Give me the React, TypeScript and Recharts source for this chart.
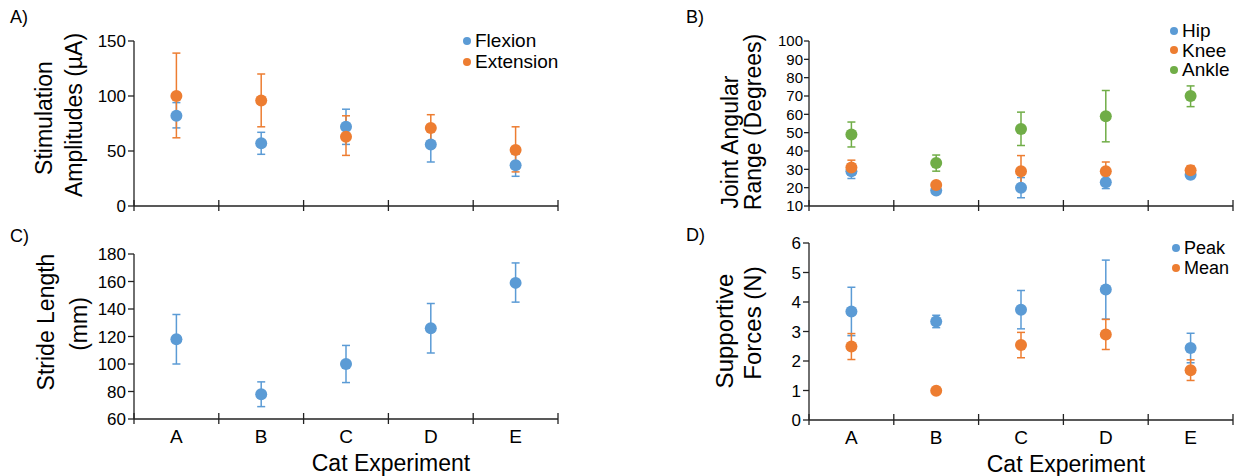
import React from "react"
import {
    ComposedChart,
    Scatter,
    ErrorBar,
    XAxis,
    YAxis,
    Legend,
    Label
} from "recharts"

const categories = ["A", "B", "C", "D", "E"]

// A) stimulation amplitudes (µA)
const flexion = [82, 57, 72, 56, 37]
const flexionLow = [11, 10, 16, 16, 10]
const flexionHigh = [12, 10, 16, 16, 10]
const extension = [100, 96, 63, 71, 51]
const extensionLow = [38, 24, 17, 12, 20]
const extensionHigh = [39, 24, 19, 12, 21]

// B) joint angular range (degrees)
const hip = [29, 18.5, 20, 23, 27]
const hipErr = [4, 1.3, 5.5, 3.5, 2]
const knee = [31, 21.5, 29, 29, 29.5]
const kneeErr = [4, 1, 8.5, 5, 2.5]
const ankle = [49, 33.5, 52, 59, 70]
const ankleLow = [6.8, 4.5, 9, 14, 5.8]
const ankleHigh = [6.8, 4.3, 9.2, 14, 5.5]

// C) stride length (mm)
const stride = [118, 78, 100, 126, 159]
const strideLow = [18, 9, 13.5, 18, 14]
const strideHigh = [18, 9, 13.5, 18, 14.5]

// D) supportive forces (N)
const peak = [3.68, 3.34, 3.74, 4.42, 2.44]
const peakErr = [0.82, 0.21, 0.65, 1.0, 0.5]
const mean = [2.49, 0.99, 2.54, 2.9, 1.69]
const meanErr = [0.44, 0.05, 0.43, 0.51, 0.35]

const ticksA = [0, 50, 100, 150]
const ticksB = [10, 20, 30, 40, 50, 60, 70, 80, 90, 100]
const ticksC = [60, 80, 100, 120, 140, 160, 180]
const ticksD = [0, 1, 2, 3, 4, 5, 6]
const xTicks = [0, 0.5, 1, 1.5, 2, 2.5, 3, 3.5, 4, 4.5, 5]

const legendOrder = ["Flexion", "Extension", "Hip", "Knee", "Ankle", "Peak", "Mean"]

const BLUE = "#5B9BD5"
const ORANGE = "#ED7D31"
const GREEN = "#70AD47"
const AXIS = "#222"
const FONT = 'Arial, "Liberation Sans", sans-serif'

const dataA = categories.map((c, i) => ({
    x: i + 0.5, cat: c,
    flex: flexion[i], flexErr: [flexionLow[i], flexionHigh[i]],
    ext: extension[i], extErr: [extensionLow[i], extensionHigh[i]],
}))
const dataB = categories.map((c, i) => ({
    x: i + 0.5, cat: c,
    hip: hip[i], hipErr: hipErr[i],
    knee: knee[i], kneeErr: kneeErr[i],
    ankle: ankle[i], ankleErr: [ankleLow[i], ankleHigh[i]],
}))
const dataC = categories.map((c, i) => ({
    x: i + 0.5, cat: c,
    stride: stride[i], strideErr: [strideLow[i], strideHigh[i]],
}))
const dataD = categories.map((c, i) => ({
    x: i + 0.5, cat: c,
    peak: peak[i], peakErr: peakErr[i],
    mean: mean[i], meanErr: meanErr[i],
}))

const dot = (color: string) => (p: any) => <circle cx={p.cx} cy={p.cy} r={6} fill={color} />

function CatTick(props: any) {
    const { x, y, payload, showLabels } = props
    const v = payload.value
    if (Number.isInteger(v)) {
        return <line x1={x} x2={x} y1={y - 6} y2={y + 5} stroke={AXIS} strokeWidth={1.3} />
    }
    if (!showLabels) return <g />
    return (
        <text x={x} y={y + 24} textAnchor="middle" fontSize={19} fill="#000" fontFamily={FONT}>
            {categories[Math.floor(v)]}
        </text>
    )
}

const legendContent = (fontSize: number, lineHeight: number) => (props: any) => {
    const items = [...(props.payload || [])].sort(
        (a: any, b: any) => legendOrder.indexOf(a.value) - legendOrder.indexOf(b.value))
    return (
        <div style={{ fontSize, lineHeight: `${lineHeight}px`, color: "#000", fontFamily: FONT }}>
            {items.map((e: any) => (
                <div key={e.value} style={{ display: "flex", alignItems: "center", whiteSpace: "nowrap", height: lineHeight }}>
                    <span style={{ display: "inline-block", width: 8, height: 8, borderRadius: 4, background: e.color, marginRight: 4 }} />
                    {e.value}
                </div>
            ))}
        </div>
    )
}

const yTitle = (lines: { text: string; x: number; y: number }[], fontSize: number) => () => (
    <g>
        {lines.map((l) => (
            <text key={l.text} transform={`translate(${l.x},${l.y}) rotate(-90)`} textAnchor="middle"
                dominantBaseline="central" fontSize={fontSize} fill="#000" fontFamily={FONT}>
                {l.text}
            </text>
        ))}
    </g>
)

const xTitle = (p: any) => {
    const vb = p.viewBox
    return (
        <text x={vb.x + vb.width / 2 + 45} y={vb.y + 52} textAnchor="middle" fontSize={23} fill="#000" fontFamily={FONT}>
            Cat Experiment
        </text>
    )
}

const panelLabel = (text: string, left: number, top: number) => (
    <div style={{ position: "absolute", left, top, fontSize: 18, lineHeight: "20px" }}>{text}</div>
)

const axisLine = { stroke: AXIS, strokeWidth: 1.3 }

export default function App() {
    return (
        <div style={{ position: "absolute", left: 0, top: 0, width: 1240, height: 476, background: "#fff", fontFamily: FONT }}>
            {panelLabel("A)", 10, 7)}
            {panelLabel("B)", 686, 7)}
            {panelLabel("C)", 10, 226)}
            {panelLabel("D)", 686, 225)}

            {/* A */}
            <div style={{ position: "absolute", left: 0, top: 0 }}>
                <ComposedChart width={620} height={238} data={dataA} margin={{ top: 41, right: 62, bottom: 0, left: 0 }}>
                    <XAxis type="number" dataKey="x" domain={[0, 5]} ticks={xTicks} interval={0} height={32}
                        axisLine={axisLine} tickLine={false} tickSize={0} tickMargin={0}
                        tick={(p: any) => <CatTick {...p} showLabels={false} />} />
                    <YAxis type="number" domain={[0, 150]} ticks={ticksA} interval={0} width={134}
                        axisLine={axisLine} tickLine={axisLine}
                        tickSize={6} tickMargin={2} tick={{ fill: "#000", fontSize: 17, fontFamily: FONT }}>
                        <Label content={yTitle([
                            { text: "Stimulation", x: 44, y: 118 },
                            { text: "Amplitudes (µA)", x: 74, y: 115 },
                        ], 23)} />
                    </YAxis>
                    <Scatter name="Flexion" data={dataA} dataKey="flex" fill={BLUE} shape={dot(BLUE)} isAnimationActive={false}>
                        <ErrorBar dataKey="flexErr" direction="y" width={4} stroke={BLUE} strokeWidth={1.5} />
                    </Scatter>
                    <Scatter name="Extension" data={dataA} dataKey="ext" fill={ORANGE} shape={dot(ORANGE)} isAnimationActive={false}>
                        <ErrorBar dataKey="extErr" direction="y" width={4} stroke={ORANGE} strokeWidth={1.5} />
                    </Scatter>
                    <Legend layout="vertical" align="center" verticalAlign="middle" content={legendContent(19, 21)}
                        wrapperStyle={{ left: 463, top: 30, width: "auto", height: "auto" }} />
                </ComposedChart>
            </div>

            {/* B */}
            <div style={{ position: "absolute", left: 620, top: 0 }}>
                <ComposedChart width={620} height={238} data={dataB} margin={{ top: 41, right: 7, bottom: 0, left: 0 }}>
                    <XAxis type="number" dataKey="x" domain={[0, 5]} ticks={xTicks} interval={0} height={32}
                        axisLine={axisLine} tickLine={false} tickSize={0} tickMargin={0}
                        tick={(p: any) => <CatTick {...p} showLabels={false} />} />
                    <YAxis type="number" domain={[10, 100]} ticks={ticksB} interval={0} width={189}
                        axisLine={axisLine} tickLine={axisLine}
                        tickSize={5} tickMargin={1} tick={{ fill: "#000", fontSize: 15, fontFamily: FONT }}>
                        <Label content={yTitle([
                            { text: "Joint Angular", x: 110, y: 142 },
                            { text: "Range  (Degrees)", x: 133, y: 122 },
                        ], 23)} />
                    </YAxis>
                    <Scatter name="Hip" data={dataB} dataKey="hip" fill={BLUE} shape={dot(BLUE)} isAnimationActive={false}>
                        <ErrorBar dataKey="hipErr" direction="y" width={4} stroke={BLUE} strokeWidth={1.5} />
                    </Scatter>
                    <Scatter name="Knee" data={dataB} dataKey="knee" fill={ORANGE} shape={dot(ORANGE)} isAnimationActive={false}>
                        <ErrorBar dataKey="kneeErr" direction="y" width={4} stroke={ORANGE} strokeWidth={1.5} />
                    </Scatter>
                    <Scatter name="Ankle" data={dataB} dataKey="ankle" fill={GREEN} shape={dot(GREEN)} isAnimationActive={false}>
                        <ErrorBar dataKey="ankleErr" direction="y" width={4} stroke={GREEN} strokeWidth={1.5} />
                    </Scatter>
                    <Legend layout="vertical" align="center" verticalAlign="middle" content={legendContent(19, 19.5)}
                        wrapperStyle={{ left: 550, top: 21, width: "auto", height: "auto" }} />
                </ComposedChart>
            </div>

            {/* C */}
            <div style={{ position: "absolute", left: 0, top: 238 }}>
                <ComposedChart width={620} height={238} data={dataC} margin={{ top: 16, right: 62, bottom: 0, left: 0 }}>
                    <XAxis type="number" dataKey="x" domain={[0, 5]} ticks={xTicks} interval={0} height={57}
                        axisLine={axisLine} tickLine={false} tickSize={0} tickMargin={0}
                        tick={(p: any) => <CatTick {...p} showLabels />}>
                        <Label content={xTitle} />
                    </XAxis>
                    <YAxis type="number" domain={[60, 180]} ticks={ticksC} interval={0} width={134}
                        axisLine={axisLine} tickLine={axisLine}
                        tickSize={6} tickMargin={2} tick={{ fill: "#000", fontSize: 17, fontFamily: FONT }}>
                        <Label content={yTitle([
                            { text: "Stride Length", x: 46, y: 84 },
                            { text: "(mm)", x: 79, y: 86 },
                        ], 23)} />
                    </YAxis>
                    <Scatter name="Stride" data={dataC} dataKey="stride" fill={BLUE} shape={dot(BLUE)} isAnimationActive={false}>
                        <ErrorBar dataKey="strideErr" direction="y" width={4} stroke={BLUE} strokeWidth={1.5} />
                    </Scatter>
                </ComposedChart>
            </div>

            {/* D */}
            <div style={{ position: "absolute", left: 620, top: 228 }}>
                <ComposedChart width={620} height={248} data={dataD} margin={{ top: 15, right: 7, bottom: 0, left: 0 }}>
                    <XAxis type="number" dataKey="x" domain={[0, 5]} ticks={xTicks} interval={0} height={56}
                        axisLine={axisLine} tickLine={false} tickSize={0} tickMargin={0}
                        tick={(p: any) => <CatTick {...p} showLabels />}>
                        <Label content={xTitle} />
                    </XAxis>
                    <YAxis type="number" domain={[0, 6]} ticks={ticksD} interval={0} width={189}
                        axisLine={axisLine} tickLine={axisLine}
                        tickSize={6} tickMargin={2} tick={{ fill: "#000", fontSize: 17, fontFamily: FONT }}>
                        <Label content={yTitle([
                            { text: "Supportive", x: 104, y: 103 },
                            { text: "Forces (N)", x: 132, y: 95 },
                        ], 24)} />
                    </YAxis>
                    <Scatter name="Peak" data={dataD} dataKey="peak" fill={BLUE} shape={dot(BLUE)} isAnimationActive={false}>
                        <ErrorBar dataKey="peakErr" direction="y" width={4} stroke={BLUE} strokeWidth={1.5} />
                    </Scatter>
                    <Scatter name="Mean" data={dataD} dataKey="mean" fill={ORANGE} shape={dot(ORANGE)} isAnimationActive={false}>
                        <ErrorBar dataKey="meanErr" direction="y" width={4} stroke={ORANGE} strokeWidth={1.5} />
                    </Scatter>
                    <Legend layout="vertical" align="center" verticalAlign="middle" content={legendContent(18, 20)}
                        wrapperStyle={{ left: 552, top: 10, width: "auto", height: "auto" }} />
                </ComposedChart>
            </div>
        </div>
    )
}
